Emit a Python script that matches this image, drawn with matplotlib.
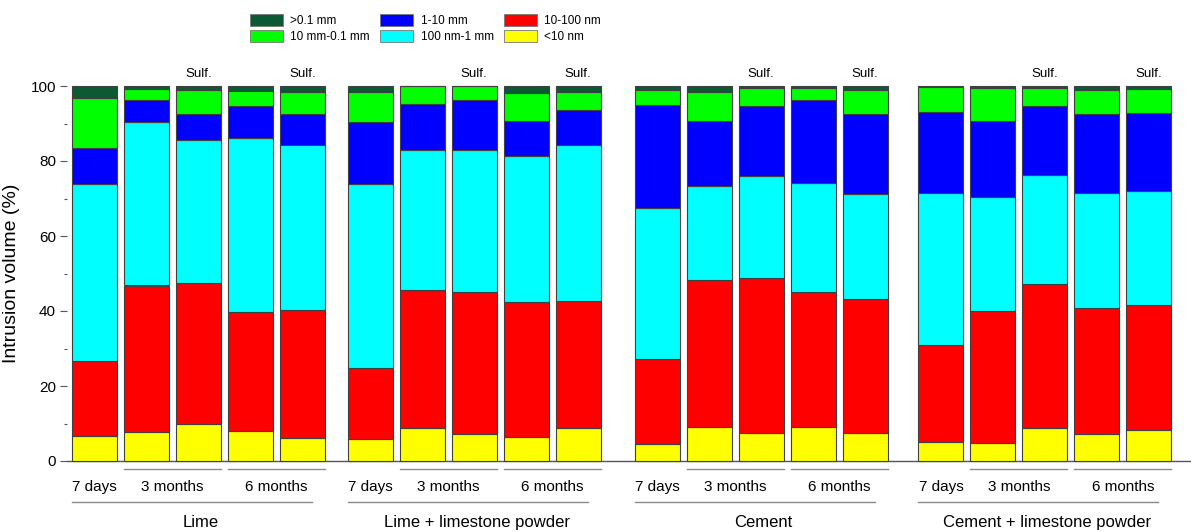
import numpy as np
import matplotlib
matplotlib.use("Agg")
import matplotlib.pyplot as plt
from matplotlib.patches import Patch

plt.rcParams["font.family"] = ["Liberation Sans", "DejaVu Sans"]

groups = ["Lime", "Lime + limestone powder", "Cement", "Cement + limestone powder"]
ages = ["7 days", "3 months", "6 months"]
sulfated = [False, False, True, False, True]

# percent of intrusion volume per bar (5 bars x 4 groups)
lt10nm = [6.8, 7.7, 9.9, 8.0, 6.2,  6.0, 8.8, 7.3, 6.5, 8.7,
          4.6, 9.0, 7.5, 9.2, 7.6,  5.0, 4.9, 8.7, 7.2, 8.4]
nm10_100 = [20.0, 39.1, 37.6, 31.7, 34.1,  18.7, 36.9, 37.9, 36.0, 34.0,
            22.7, 39.3, 41.3, 36.0, 35.7,  26.0, 35.2, 38.4, 33.6, 33.2]
nm100_1mm = [47.1, 43.5, 38.0, 46.4, 44.1,  49.2, 37.2, 37.8, 38.8, 41.5,
             40.1, 25.0, 27.2, 28.9, 27.9,  40.4, 30.2, 29.1, 30.6, 30.3]
mm1_10 = [9.6, 6.1, 7.0, 8.5, 8.2,  16.6, 12.4, 13.4, 9.5, 9.3,
          27.5, 17.3, 18.6, 22.1, 21.4,  21.7, 20.3, 18.6, 21.2, 21.0]
mm10_01 = [13.2, 2.8, 6.5, 4.2, 5.7,  8.0, 4.7, 3.6, 7.3, 4.8,
           4.1, 7.9, 4.8, 3.2, 6.3,  6.5, 9.0, 4.6, 6.4, 6.2]
gt01mm = [3.3, 0.8, 1.0, 1.2, 1.7,  1.5, 0.0, 0.0, 1.9, 1.7,
          1.0, 1.5, 0.6, 0.6, 1.1,  0.4, 0.4, 0.6, 1.0, 0.9]

layers = [lt10nm, nm10_100, nm100_1mm, mm1_10, mm10_01, gt01mm]
layer_labels = ["<10 nm", "10-100 nm", "100 nm-1 mm", "1-10 mm", "10 mm-0.1 mm", ">0.1 mm"]
colors = ["#ffff00", "#ff0000", "#00ffff", "#0000ff", "#00ff00", "#0b5a34"]

# layout
group_starts = [0, 5.3, 10.82, 16.28]
width = 0.865
x = np.concatenate([s + np.arange(5) for s in group_starts])

fig = plt.figure(figsize=(11.91, 5.31), dpi=100)
ax = fig.add_axes([67 / 1191, 1 - 461 / 531, 1 - 67 / 1191, 375 / 531])

bottom = np.zeros(len(x))
for vals, col in zip(layers, colors):
    vals = np.array(vals)
    ax.bar(x, vals, width, bottom=bottom, color=col, edgecolor="#404040",
           linewidth=0.8, zorder=3, clip_on=False)
    bottom += vals

ax.set_xlim(-0.53, 21.09)
ax.set_ylim(0, 100)
ax.set_xticks([])
ax.set_yticks(np.arange(0, 101, 20))
ax.set_yticks(np.arange(10, 100, 20), minor=True)
ax.tick_params(axis="y", which="major", direction="out", length=5, width=0.8,
               color="#555555", labelsize=11, pad=3)
ax.tick_params(axis="y", which="minor", direction="out", length=2.5, width=0.8,
               color="#555555")
for side in ["top", "right", "left"]:
    ax.spines[side].set_visible(False)
ax.spines["bottom"].set_color("#555555")
ax.spines["bottom"].set_linewidth(1.0)
ax.set_ylabel("Intrusion volume (%)", fontsize=14)
ax.yaxis.set_label_coords(-0.042, 0.5)

tr = ax.get_xaxis_transform()
for gi, s in enumerate(group_starts):
    xs = s + np.arange(5)
    for bi in range(5):
        if sulfated[bi]:
            ax.text(xs[bi], 1.032, "Sulf.", transform=tr, ha="center", va="center",
                    fontsize=9.5)
    # time labels
    ax.text(xs[0], -0.069, ages[0], transform=tr, ha="center", va="center", fontsize=11)
    for k, (a, b) in enumerate([(1, 2), (3, 4)]):
        ax.plot([xs[a] - width / 2, xs[b] + width / 2], [-0.022, -0.022], transform=tr,
                color="#8a8a8a", lw=1, clip_on=False)
        ax.text((xs[a] + xs[b]) / 2, -0.069, ages[k + 1], transform=tr,
                ha="center", va="center", fontsize=11)
    ax.plot([xs[0] - width / 2, xs[4] + width / 2 - 0.25], [-0.109, -0.109], transform=tr,
            color="#8a8a8a", lw=1, clip_on=False)
    ax.text(xs[2] + 0.05, -0.165, groups[gi], transform=tr,
            ha="center", va="center", fontsize=12)

handles = [Patch(facecolor=c, edgecolor="#777777", linewidth=0.6, label=l)
           for c, l in zip(colors, layer_labels)]
order = [5, 4, 3, 2, 1, 0]
handles = [handles[i] for i in order]
fig.legend(handles=handles, loc="upper left", bbox_to_anchor=(250 / 1191, 1 - 14 / 531),
           ncol=3, frameon=False, fontsize=8.5, handlelength=2.8, handleheight=1.2,
           handletextpad=0.6, columnspacing=0.9, labelspacing=0.25, borderpad=0,
           borderaxespad=0)

fig.savefig("out.png", dpi=100)
